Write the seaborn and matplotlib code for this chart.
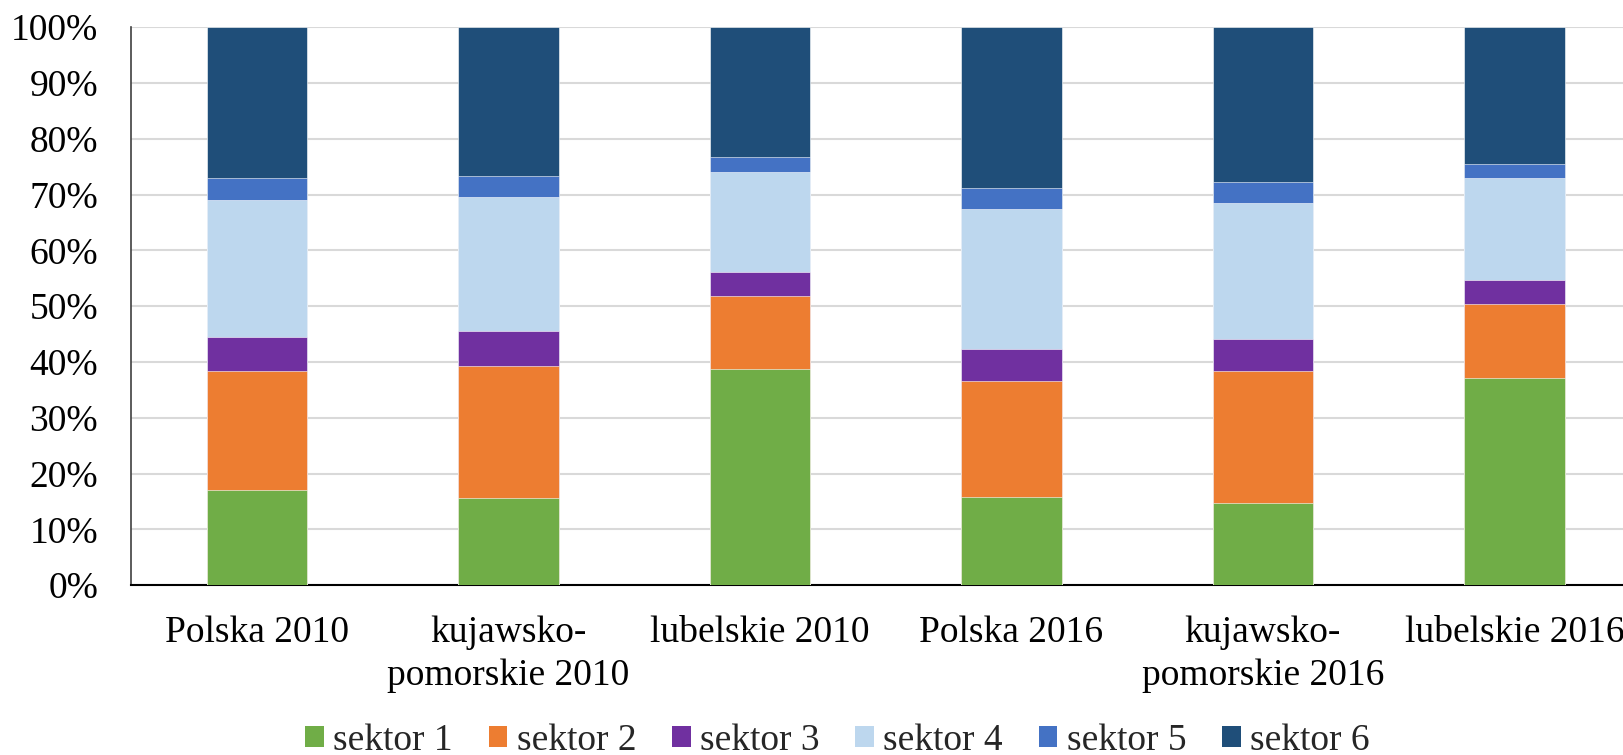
import numpy as np
import pandas as pd
import matplotlib
matplotlib.use("Agg")
import matplotlib.pyplot as plt
from matplotlib.patches import Patch
from matplotlib.ticker import PercentFormatter
import seaborn as sns

# Data (shares in %)
CATEGORIES = ["Polska 2010", "kujawsko-\npomorskie 2010", "lubelskie 2010",
              "Polska 2016", "kujawsko-\npomorskie 2016", "lubelskie 2016"]
SECTORS = ["sektor 1", "sektor 2", "sektor 3", "sektor 4", "sektor 5", "sektor 6"]
SEKTOR_1 = [17.0, 15.6, 38.7, 15.8, 14.7, 37.1]
SEKTOR_2 = [21.3, 23.6, 13.1, 20.8, 23.6, 13.2]
SEKTOR_3 = [6.1, 6.4, 4.4, 5.7, 5.9, 4.3]
SEKTOR_4 = [24.7, 23.9, 17.9, 25.1, 24.2, 18.4]
SEKTOR_5 = [3.9, 3.8, 2.6, 3.8, 3.9, 2.5]
SEKTOR_6 = [27.0, 26.7, 23.3, 28.8, 27.7, 24.5]
COLORS = ["#70AD47", "#ED7D31", "#7030A0", "#BDD7EE", "#4472C4", "#1F4E79"]

sns.set_style("white")
plt.rcParams["font.family"] = ["Liberation Serif", "DejaVu Serif"]
FS = 27

df = pd.DataFrame(
    np.array([SEKTOR_1, SEKTOR_2, SEKTOR_3, SEKTOR_4, SEKTOR_5, SEKTOR_6]).T,
    columns=SECTORS,
)
df["kategoria"] = CATEGORIES
df[SECTORS] = df[SECTORS].div(df[SECTORS].sum(axis=1), axis=0) * 100
cum = df[SECTORS].cumsum(axis=1)

fig = plt.figure(figsize=(16.23, 7.55), dpi=100)
ax = fig.add_axes([0.081, 0.225, 0.9295, 0.739])

# stacked bars: draw cumulative totals from top segment down
for sector, color in reversed(list(zip(SECTORS, COLORS))):
    sns.barplot(x=df["kategoria"], y=cum[sector], color=color, width=0.4,
                ax=ax, saturation=1, edgecolor="white", linewidth=0.4, zorder=3)

ax.set_xlim(-0.5, 5.5)
ax.set_ylim(0, 100)
ax.set_yticks(np.arange(0, 101, 10))
ax.yaxis.set_major_formatter(PercentFormatter(decimals=0))
ax.grid(axis="y", color="#D9D9D9", linewidth=1.5, zorder=0)
ax.set_axisbelow(True)
ax.set_xlabel("")
ax.set_ylabel("")
ax.tick_params(axis="both", length=0, labelsize=FS, colors="black")
ax.tick_params(axis="x", pad=22)
ax.tick_params(axis="y", pad=24)
for lbl in ax.get_xticklabels():
    lbl.set_linespacing(1.33)

for side in ["top", "right"]:
    ax.spines[side].set_visible(False)
ax.spines["left"].set_color("#404040")
ax.spines["left"].set_linewidth(1.2)
ax.spines["bottom"].set_color("black")
ax.spines["bottom"].set_linewidth(1.5)

handles = [Patch(facecolor=c, edgecolor="none", label=s) for s, c in zip(SECTORS, COLORS)]
fig.legend(handles=handles, loc="center", bbox_to_anchor=(0.516, 0.019), ncol=6,
           frameon=False, fontsize=FS, handlelength=0.5, handleheight=0.5,
           handletextpad=0.25, columnspacing=0.95)

fig.savefig("out.png", dpi=100)
